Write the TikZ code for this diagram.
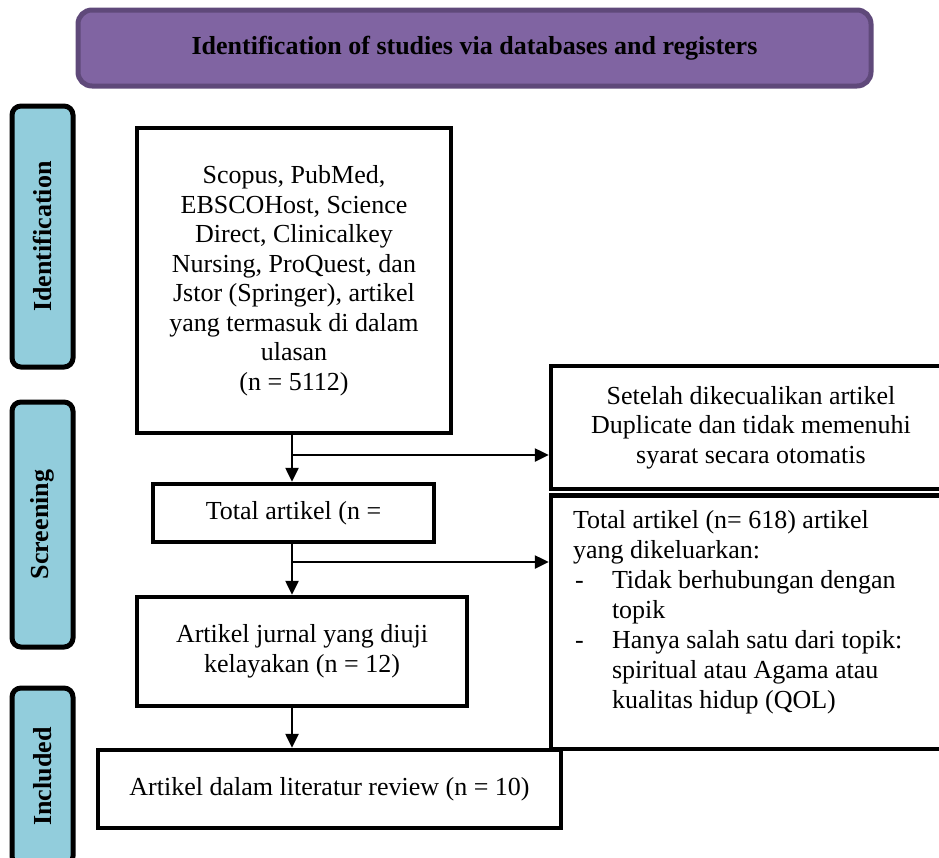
\documentclass[tikz,border=0pt]{standalone}
\usepackage{fontspec}
\setmainfont{Liberation Serif}
\usetikzlibrary{arrows.meta}
\definecolor{titlefill}{HTML}{8064A2}
\definecolor{titleedge}{HTML}{5F497A}
\definecolor{labelfill}{HTML}{92CDDC}
\begin{document}
\begin{tikzpicture}[x=1pt,y=-1pt,
  every node/.style={font=\fontsize{26pt}{29.5pt}\selectfont},
  titlebox/.style={draw=titleedge, fill=titlefill, line width=5pt, rounded corners=14pt,
    minimum width=793pt, minimum height=76pt, inner sep=0pt,
    font=\fontsize{26pt}{29.5pt}\selectfont\bfseries},
  phase/.style={draw=black, fill=labelfill, line width=5pt, rounded corners=9pt, rotate=90,
    minimum height=61pt, inner sep=0pt, font=\fontsize{26pt}{29.5pt}\selectfont\bfseries},
  flowbox/.style={draw=black, line width=4.5pt, align=center, inner sep=0pt},
  arr/.style={line width=2.5pt, -{Triangle[length=14pt,width=13pt]}}
]
\useasboundingbox (0,0) rectangle (939,857);
\clip (0,0) rectangle (939,857);

\node[titlebox] (title) at (474.5,48) {Identification of studies via databases and registers};

\node[phase, minimum width=261pt] (ident) at (42.5,236.5) {Identification};
\node[phase, minimum width=245pt] (screen) at (42.5,524.5) {Screening};
\node[phase, minimum width=177pt] (incl) at (42.5,776.5) {Included};

\node[flowbox, minimum width=314pt, minimum height=305pt] (records) at (294,280.5)
  {Scopus, PubMed,\\ EBSCOHost, Science\\ Direct, Clinicalkey\\ Nursing, ProQuest, dan\\ Jstor (Springer), artikel\\ yang termasuk di dalam\\ ulasan\\ (n = 5112)};
\node[flowbox, minimum width=281pt, minimum height=58pt] (total) at (293.5,513) {Total artikel (n =};
\node[flowbox, minimum width=330pt, minimum height=109pt] (screened) at (302,651.5)
  {Artikel jurnal yang diuji\\ kelayakan (n = 12)};
\node[flowbox, minimum width=463pt, minimum height=78pt] (included) at (329.5,789)
  {Artikel dalam literatur review (n = 10)};
\node[flowbox, minimum width=400pt, minimum height=123pt] (dup) at (751,427.5)
  {Setelah dikecualikan artikel\\ Duplicate dan tidak memenuhi\\ syarat secara otomatis};
\node[flowbox, minimum width=400pt, inner xsep=22pt, align=left] (excl) at (751,622.25)
  {\parbox[c][253.5pt][t]{356pt}{\raggedright\fontsize{26pt}{30pt}\selectfont\vspace*{14.5pt}%
   Total artikel (n= 618) artikel\\
   yang dikeluarkan:\\
   \makebox[39pt][l]{\hspace{2pt}-}Tidak berhubungan dengan\\
   \hspace*{39pt}topik\\
   \makebox[39pt][l]{\hspace{2pt}-}Hanya salah satu dari topik:\\
   \hspace*{39pt}spiritual atau Agama atau\\
   \hspace*{39pt}kualitas hidup (QOL)}};

\coordinate (j1) at (292,455);
\coordinate (j2) at (292,562);
\draw[arr] (records.south -| j1) -- (total.north -| j1);
\draw[arr] (j1) -- (j1 -| dup.west);
\draw[arr] (total.south -| j1) -- (screened.north -| j1);
\draw[arr] (j2) -- (j2 -| excl.west);
\draw[arr] (screened.south -| j1) -- (included.north -| j1);
\end{tikzpicture}
\end{document}
